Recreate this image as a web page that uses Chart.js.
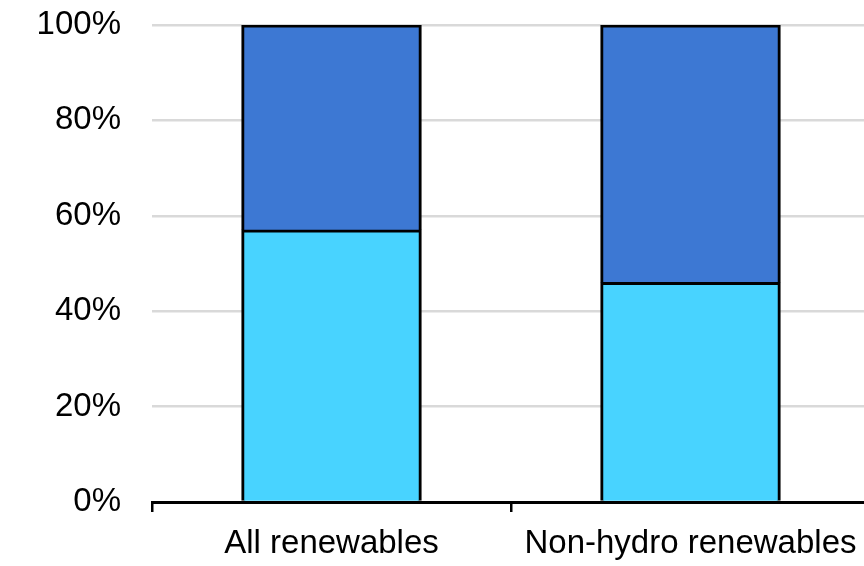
<!DOCTYPE html>
<html>
<head>
<meta charset="utf-8">
<script src="https://cdn.jsdelivr.net/npm/chart.js@4/dist/chart.umd.min.js"></script>
<style>
  html, body { margin: 0; padding: 0; background: #ffffff; overflow: hidden; }
  #wrap { width: 872px; height: 566px; }
</style>
</head>
<body>
<div id="wrap"><canvas id="c" width="872" height="566"></canvas></div>
<script>
const categories = ["All renewables", "Non-hydro renewables"];
const lowerShare = [57, 46];
const upperShare = [43, 54];
const yTicks = [0, 20, 40, 60, 80, 100];

const FAMILY = "'Liberation Sans', Arial, sans-serif";

new Chart(document.getElementById('c'), {
  type: 'bar',
  data: {
    labels: categories,
    datasets: [
      { data: lowerShare, backgroundColor: '#48D3FF', borderColor: '#000000',
        borderWidth: { top: 3, left: 3, right: 3, bottom: 0 }, borderSkipped: false, inflateAmount: 0.5,
        barPercentage: 0.5, categoryPercentage: 1.0 },
      { data: upperShare, backgroundColor: '#3D78D3', borderColor: '#000000',
        borderWidth: { top: 3, left: 3, right: 3, bottom: 0 }, borderSkipped: false, inflateAmount: 0.5,
        barPercentage: 0.5, categoryPercentage: 1.0 }
    ]
  },
  options: {
    responsive: false,
    animation: false,
    devicePixelRatio: 1,
    layout: { padding: { top: 25, right: 2, bottom: 0, left: 0 } },
    plugins: { legend: { display: false }, tooltip: { enabled: false } },
    scales: {
      x: {
        stacked: true,
        offset: true,
        grid: { display: true, drawOnChartArea: false, drawTicks: true, tickLength: 10, color: '#000000', lineWidth: 2.5, offset: true },
        border: { display: true, color: '#000000', width: 3 },
        ticks: { color: '#000000', font: { family: FAMILY, size: 33 }, padding: 12, maxRotation: 0, autoSkip: false },
        afterFit: (s) => { s.height = 64; }
      },
      y: {
        stacked: true,
        min: 0,
        max: 100,
        afterBuildTicks: (s) => { s.ticks = yTicks.map(v => ({ value: v })); },
        grid: { color: '#D9D9D9', lineWidth: 2.5, drawTicks: false },
        border: { display: false },
        ticks: { color: '#000000', font: { family: FAMILY, size: 33 }, padding: 31, callback: (v) => v + '%' },
        afterFit: (s) => { s.width = 152; s.paddingTop = 0; s.paddingBottom = 0; }
      }
    }
  }
});
</script>
</body>
</html>
